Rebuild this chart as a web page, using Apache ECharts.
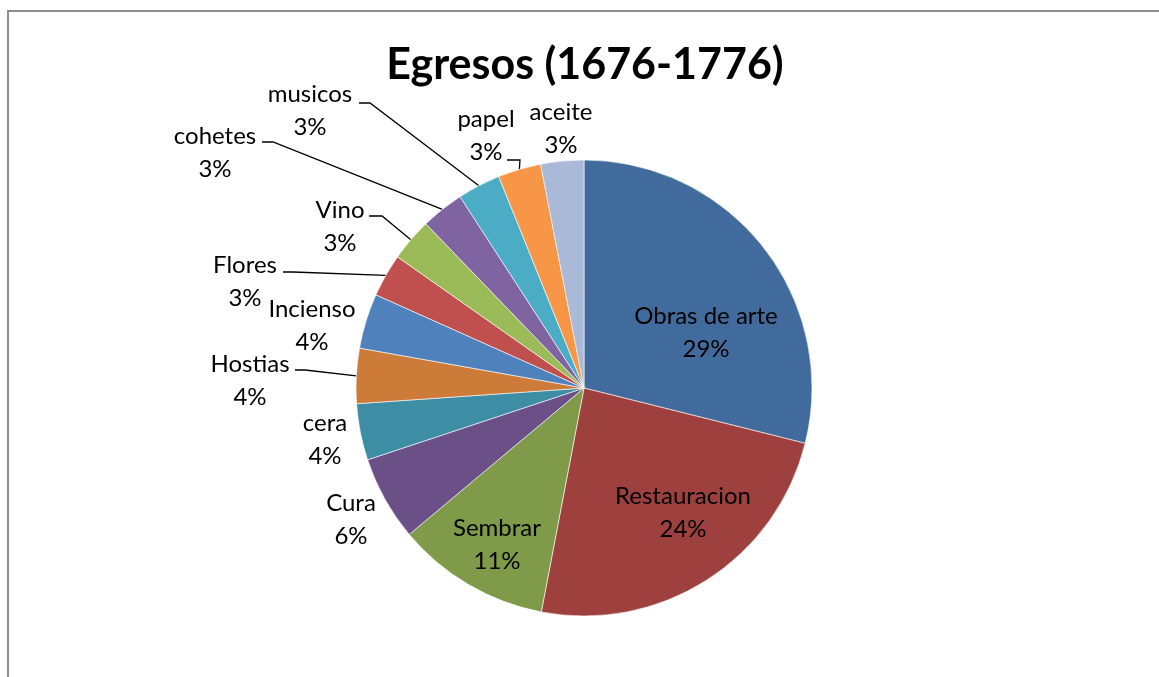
<!DOCTYPE html>
<html>
<head>
<meta charset="utf-8">
<title>Egresos (1676-1776)</title>
<script src="https://cdn.jsdelivr.net/npm/echarts@6/dist/echarts.min.js"></script>
<style>
  html, body { margin: 0; padding: 0; background: #fff; }
  #chart { width: 1159px; height: 677px; }
</style>
</head>
<body>
<div id="chart"></div>
<script>
// datos del grafico (porcentaje de egresos)
const names = ['Obras de arte', 'Restauracion', 'Sembrar', 'Cura', 'cera', 'Hostias',
  'Incienso', 'Flores', 'Vino', 'cohetes', 'musicos', 'papel', 'aceite']
const values = [28.9, 24.1, 10.9, 6.0, 4.0, 3.9, 3.9, 3.05, 3.05, 3.05, 3.05, 3.05, 3.05]
const colors = ['#416b9d', '#9e413e', '#7f9a48', '#6a5087', '#3d8da5', '#cc7b38',
  '#4f81bd', '#c0504d', '#9bbb59', '#8064a2', '#4bacc6', '#f79646', '#a9b9d7']

// donde va cada etiqueta (centro del texto) y como sale la linea guia
const labelPos = [[706, 333], [683, 513], [497, 545], [351, 520], [325, 440], [250, 381],
  [312, 326], [245, 282], [340, 227], [215, 153], [310, 111], [486, 136], [561, 129]]
const inside = [true, true, true, false, false, false, false, false, false, false, false, false, false]
const withLine = [false, false, false, false, false, true, false, true, true, true, true, true, false]
const lineDx = [0, 0, 0, 0, 0, 45, 0, 38, 29, 47, 49, 21, 0]
const lineDy = [0, 0, 0, 0, 0, -11, 0, -10, -11, -11, -8, 24, 0]
const elbow = [0, 0, 0, 0, 0, 10, 0, 10, 13, 11, 11, 13, 0]

const chart = echarts.init(document.getElementById('chart'))

const pieData = names.map((n, i) => ({
  name: n,
  value: values[i],
  itemStyle: { color: colors[i] },
  label: { position: inside[i] ? 'inside' : 'outside' },
  labelLine: { show: withLine[i] }
}))

chart.setOption({
  animation: false,
  title: {
    text: 'Egresos (1676-1776)',
    left: 580,
    textAlign: 'center',
    top: 39,
    textStyle: { fontFamily: 'Lato', fontSize: 43, fontWeight: 'bold', color: '#000' }
  },
  graphic: [{
    type: 'rect',
    shape: { x: 8, y: 11, width: 1200, height: 700 },
    style: { fill: 'none', stroke: '#8e8e8e', lineWidth: 2 },
    silent: true
  }],
  series: [{
    type: 'pie',
    center: [584, 388],
    radius: 228,
    startAngle: 90,
    clockwise: true,
    avoidLabelOverlap: false,
    itemStyle: { borderColor: '#ffffff', borderWidth: 0.6 },
    label: {
      fontFamily: 'Lato',
      fontSize: 24,
      color: '#000',
      lineHeight: 33,
      formatter: p => p.name + '\n' + Math.round(p.percent) + '%'
    },
    labelLine: {
      lineStyle: { color: '#000', width: 1.3 },
      length: 20,
      length2: 10
    },
    labelLayout: params => {
      const i = params.dataIndex
      const p = labelPos[i]
      const res = { x: p[0], y: p[1], align: 'center', verticalAlign: 'middle' }
      if (withLine[i] && params.labelLinePoints) {
        const a = params.labelLinePoints[0]
        const yj = p[1] + lineDy[i]
        const xj = p[0] + lineDx[i]
        res.labelLinePoints = [a, [xj + elbow[i], yj], [xj, yj]]
      }
      return res
    },
    data: pieData
  }]
})
</script>
</body>
</html>
